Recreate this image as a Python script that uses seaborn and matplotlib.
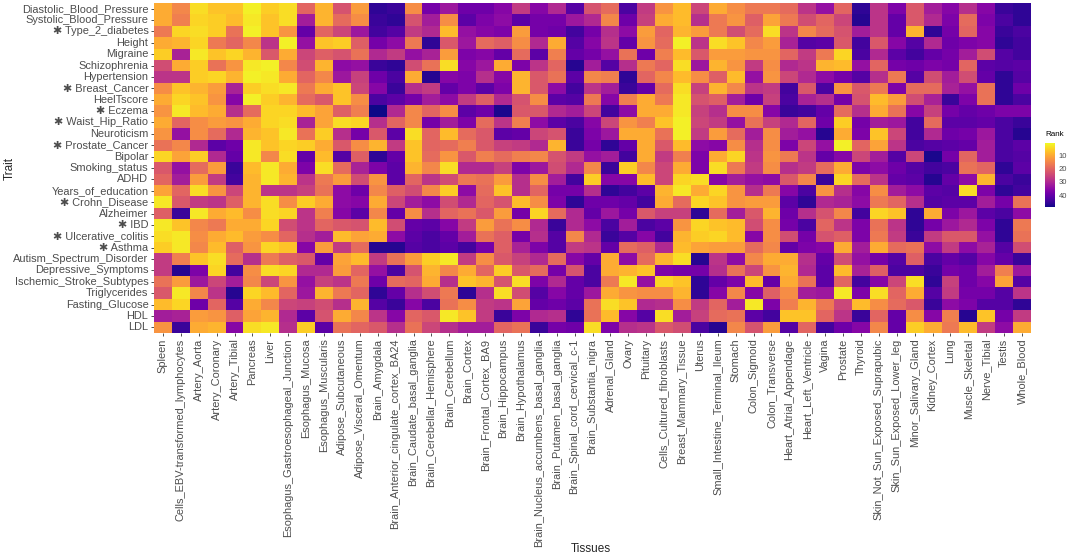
import numpy as np
import pandas as pd
import matplotlib
matplotlib.use("Agg")
import matplotlib.pyplot as plt
import seaborn as sns

# --------------------------------------------------------------------------- #
# Data (rank of each tissue per trait)
# --------------------------------------------------------------------------- #
tissues = [
    "Spleen", "Cells_EBV-transformed_lymphocytes", "Artery_Aorta", "Artery_Coronary",
    "Artery_Tibial", "Pancreas", "Liver", "Esophagus_Gastroesophageal_Junction",
    "Esophagus_Mucosa", "Esophagus_Muscularis", "Adipose_Subcutaneous",
    "Adipose_Visceral_Omentum", "Brain_Amygdala", "Brain_Anterior_cingulate_cortex_BA24",
    "Brain_Caudate_basal_ganglia", "Brain_Cerebellar_Hemisphere", "Brain_Cerebellum",
    "Brain_Cortex", "Brain_Frontal_Cortex_BA9", "Brain_Hippocampus", "Brain_Hypothalamus",
    "Brain_Nucleus_accumbens_basal_ganglia", "Brain_Putamen_basal_ganglia",
    "Brain_Spinal_cord_cervical_c-1", "Brain_Substantia_nigra", "Adrenal_Gland", "Ovary",
    "Pituitary", "Cells_Cultured_fibroblasts", "Breast_Mammary_Tissue", "Uterus",
    "Small_Intestine_Terminal_Ileum", "Stomach", "Colon_Sigmoid", "Colon_Transverse",
    "Heart_Atrial_Appendage", "Heart_Left_Ventricle", "Vagina", "Prostate", "Thyroid",
    "Skin_Not_Sun_Exposed_Suprapubic", "Skin_Sun_Exposed_Lower_leg", "Minor_Salivary_Gland",
    "Kidney_Cortex", "Lung", "Muscle_Skeletal", "Nerve_Tibial", "Testis", "Whole_Blood",
]

traits = [
    "Diastolic_Blood_Pressure", "Systolic_Blood_Pressure", "Type_2_diabetes", "Height",
    "Migraine", "Schizophrenia", "Hypertension", "Breast_Cancer", "HeelTscore", "Eczema",
    "Waist_Hip_Ratio", "Neuroticism", "Prostate_Cancer", "Bipolar", "Smoking_status", "ADHD",
    "Years_of_education", "Crohn_Disease", "Alzheimer", "IBD", "Ulcerative_colitis", "Asthma",
    "Autism_Spectrum_Disorder", "Depressive_Symptoms", "Ischemic_Stroke_Subtypes",
    "Triglycerides", "Fasting_Glucose", "HDL", "LDL",
]
starred = {"Type_2_diabetes", "Breast_Cancer", "Eczema", "Waist_Hip_Ratio", "Prostate_Cancer",
           "Crohn_Disease", "IBD", "Ulcerative_colitis", "Asthma"}

diastolic_bp = [10, 15, 4, 7, 7, 2, 6, 4, 20, 9, 23, 12, 46, 45, 14, 38, 33, 39, 39, 36, 27, 36, 30, 42, 23, 19, 43, 27, 13, 8, 25, 10, 14, 17, 17, 19, 28, 34, 20, 46, 28, 37, 22, 32, 36, 29, 36, 45, 46]
systolic_bp = [10, 16, 5, 6, 8, 3, 7, 4, 32, 9, 19, 14, 45, 46, 23, 32, 14, 41, 37, 35, 41, 38, 38, 33, 30, 15, 39, 26, 10, 8, 29, 17, 13, 21, 11, 17, 24, 20, 25, 47, 28, 40, 22, 30, 37, 19, 37, 43, 46]
type_2_diabetes = [17, 5, 4, 6, 18, 2, 7, 13, 40, 20, 25, 33, 44, 42, 27, 30, 8, 34, 36, 37, 12, 38, 39, 44, 38, 29, 35, 12, 20, 9, 12, 17, 24, 19, 4, 28, 15, 19, 23, 32, 28, 40, 9, 46, 38, 20, 36, 45, 43]
height = [10, 9, 5, 17, 20, 15, 28, 2, 34, 7, 6, 21, 38, 35, 17, 46, 22, 33, 19, 21, 14, 30, 10, 42, 36, 28, 40, 13, 19, 2, 28, 4, 7, 15, 12, 31, 42, 41, 22, 44, 22, 36, 42, 30, 39, 37, 36, 46, 44]
migraine = [6, 31, 3, 7, 5, 9, 22, 10, 25, 21, 23, 18, 30, 27, 34, 31, 12, 37, 36, 40, 19, 41, 16, 40, 38, 34, 18, 39, 16, 8, 22, 12, 12, 13, 13, 20, 27, 17, 5, 43, 30, 41, 44, 40, 38, 32, 24, 42, 44]
schizophrenia = [24, 10, 6, 18, 13, 3, 2, 15, 24, 9, 35, 34, 45, 46, 24, 18, 4, 36, 33, 10, 37, 28, 20, 47, 32, 42, 29, 17, 20, 4, 33, 9, 13, 27, 14, 30, 28, 9, 8, 34, 20, 38, 39, 37, 38, 20, 41, 42, 41]
hypertension = [28, 28, 6, 5, 9, 2, 3, 10, 20, 15, 33, 26, 39, 43, 10, 47, 36, 37, 29, 36, 9, 22, 18, 41, 15, 16, 46, 20, 15, 8, 14, 21, 8, 34, 13, 25, 30, 35, 38, 42, 29, 17, 42, 24, 32, 24, 40, 46, 42]
breast_cancer = [14, 7, 9, 12, 31, 6, 4, 3, 17, 10, 7, 25, 36, 45, 29, 27, 40, 37, 41, 37, 9, 22, 35, 44, 28, 32, 45, 40, 19, 4, 26, 9, 15, 28, 27, 44, 22, 43, 13, 22, 17, 37, 19, 19, 31, 34, 18, 46, 39]
heel_tscore = [10, 5, 7, 13, 36, 2, 6, 9, 19, 22, 7, 14, 43, 41, 38, 32, 35, 27, 21, 30, 23, 14, 41, 42, 17, 36, 16, 10, 17, 3, 23, 21, 32, 39, 26, 43, 31, 29, 38, 23, 8, 12, 24, 31, 45, 37, 18, 46, 43]
eczema = [13, 3, 8, 10, 29, 19, 5, 5, 8, 11, 21, 16, 49, 30, 15, 20, 14, 41, 39, 48, 22, 22, 30, 32, 25, 44, 35, 10, 10, 3, 26, 29, 14, 14, 36, 45, 44, 40, 19, 29, 10, 18, 36, 26, 38, 40, 39, 37, 37]
waist_hip_ratio = [10, 20, 14, 12, 13, 10, 5, 4, 31, 11, 4, 5, 29, 20, 15, 38, 32, 37, 19, 28, 16, 35, 41, 43, 36, 25, 13, 16, 7, 2, 25, 27, 34, 18, 26, 30, 20, 39, 6, 38, 32, 33, 44, 19, 41, 41, 40, 43, 45]
neuroticism = [13, 34, 14, 19, 30, 9, 7, 3, 18, 6, 29, 38, 22, 41, 4, 20, 8, 19, 22, 41, 40, 25, 23, 45, 37, 33, 10, 10, 18, 2, 27, 12, 19, 32, 14, 32, 34, 47, 10, 37, 7, 25, 44, 30, 39, 38, 33, 43, 47]
prostate_cancer = [18, 15, 30, 41, 39, 3, 7, 5, 6, 10, 22, 14, 9, 27, 7, 20, 19, 16, 22, 26, 27, 30, 9, 45, 38, 46, 40, 10, 22, 8, 35, 36, 14, 29, 14, 37, 25, 34, 2, 20, 11, 28, 43, 42, 41, 40, 32, 43, 41]
bipolar = [5, 11, 6, 30, 40, 3, 15, 4, 40, 8, 42, 21, 46, 40, 7, 19, 13, 22, 16, 19, 16, 15, 23, 27, 34, 32, 44, 10, 27, 16, 37, 10, 5, 28, 13, 17, 28, 40, 36, 25, 32, 42, 25, 48, 38, 20, 32, 43, 42]
smoking_status = [22, 34, 19, 12, 45, 8, 3, 10, 37, 4, 19, 31, 37, 41, 9, 15, 4, 30, 30, 26, 37, 33, 24, 30, 15, 45, 6, 15, 25, 10, 37, 4, 17, 27, 14, 29, 27, 19, 10, 37, 35, 39, 42, 44, 43, 18, 20, 46, 41]
adhd = [20, 32, 12, 27, 44, 9, 3, 9, 28, 17, 12, 24, 13, 41, 20, 28, 24, 17, 18, 12, 29, 14, 32, 44, 6, 36, 36, 8, 25, 5, 4, 36, 32, 34, 35, 22, 15, 45, 5, 19, 28, 40, 41, 47, 40, 35, 9, 43, 45]
years_of_education = [11, 20, 4, 13, 25, 9, 28, 28, 26, 18, 35, 39, 15, 21, 24, 15, 6, 35, 19, 7, 29, 20, 38, 38, 29, 46, 44, 41, 9, 3, 10, 5, 13, 29, 17, 36, 43, 13, 29, 36, 14, 32, 35, 41, 42, 4, 37, 46, 44]
crohn_disease = [3, 22, 27, 28, 21, 9, 4, 14, 6, 10, 35, 36, 10, 25, 32, 35, 24, 30, 20, 23, 8, 14, 37, 46, 39, 39, 40, 44, 10, 19, 5, 7, 13, 12, 12, 41, 46, 30, 31, 35, 17, 20, 29, 42, 41, 41, 32, 38, 18]
alzheimer = [21, 45, 3, 10, 8, 14, 4, 5, 28, 16, 36, 41, 15, 40, 14, 29, 20, 18, 22, 12, 38, 5, 19, 30, 40, 33, 38, 22, 26, 26, 46, 19, 32, 22, 9, 39, 29, 23, 15, 44, 5, 7, 46, 10, 37, 33, 41, 43, 35]
ibd = [3, 7, 15, 17, 10, 10, 5, 24, 28, 20, 22, 23, 8, 24, 40, 41, 36, 27, 12, 18, 14, 30, 45, 30, 35, 43, 32, 43, 41, 13, 5, 7, 8, 24, 14, 38, 43, 20, 28, 37, 18, 28, 46, 38, 33, 30, 37, 46, 17]
ulcerative_colitis = [4, 3, 14, 10, 8, 12, 14, 20, 29, 32, 8, 11, 10, 35, 41, 43, 40, 32, 18, 21, 38, 29, 42, 15, 30, 45, 42, 36, 44, 9, 6, 5, 8, 36, 14, 24, 38, 23, 21, 37, 17, 27, 45, 27, 22, 22, 34, 46, 18]
asthma = [6, 3, 15, 8, 21, 13, 5, 7, 36, 12, 27, 19, 47, 47, 42, 43, 41, 44, 38, 21, 31, 37, 42, 27, 28, 40, 19, 21, 30, 8, 11, 12, 12, 19, 15, 40, 37, 36, 10, 32, 10, 19, 18, 35, 27, 35, 31, 42, 24]
autism = [27, 16, 7, 4, 19, 29, 17, 21, 22, 40, 11, 8, 27, 18, 12, 6, 3, 27, 14, 22, 26, 30, 19, 36, 40, 10, 35, 19, 9, 4, 47, 28, 35, 15, 10, 10, 29, 40, 24, 34, 38, 42, 21, 43, 40, 42, 36, 40, 45]
depressive_symptoms = [27, 47, 37, 5, 44, 14, 4, 5, 30, 30, 12, 20, 34, 43, 23, 9, 15, 10, 20, 6, 22, 19, 38, 23, 43, 10, 9, 7, 37, 38, 38, 29, 18, 25, 13, 9, 30, 41, 8, 31, 21, 43, 43, 45, 38, 39, 32, 16, 33]
ischemic_stroke = [18, 12, 33, 25, 32, 15, 25, 13, 34, 26, 28, 17, 39, 19, 20, 10, 29, 7, 9, 23, 4, 37, 30, 40, 43, 17, 3, 34, 5, 7, 46, 40, 37, 8, 40, 10, 18, 41, 20, 44, 36, 25, 4, 46, 26, 39, 36, 11, 42]
triglycerides = [22, 3, 15, 28, 47, 5, 8, 20, 33, 9, 17, 20, 46, 40, 29, 24, 17, 46, 29, 4, 24, 42, 36, 40, 33, 10, 13, 14, 14, 9, 46, 36, 15, 36, 21, 14, 32, 33, 3, 37, 4, 20, 10, 42, 27, 38, 38, 42, 28]
fasting_glucose = [8, 5, 39, 20, 42, 10, 15, 25, 26, 24, 29, 9, 42, 45, 36, 43, 18, 14, 27, 28, 11, 40, 39, 41, 18, 4, 7, 30, 29, 14, 27, 20, 32, 3, 37, 16, 9, 17, 25, 8, 14, 19, 22, 45, 35, 37, 42, 42, 46]
hdl = [32, 31, 12, 13, 21, 11, 9, 30, 41, 23, 10, 15, 28, 36, 20, 22, 3, 7, 27, 45, 37, 30, 29, 46, 18, 8, 36, 42, 4, 32, 26, 19, 18, 41, 44, 7, 7, 20, 28, 45, 20, 40, 14, 36, 16, 47, 7, 38, 27]
ldl = [13, 45, 10, 9, 36, 4, 3, 29, 6, 41, 18, 20, 22, 29, 18, 25, 29, 32, 32, 20, 18, 45, 38, 39, 4, 37, 29, 28, 22, 24, 43, 47, 15, 23, 12, 42, 20, 44, 39, 36, 15, 40, 6, 10, 17, 8, 27, 35, 10]

rows = [diastolic_bp, systolic_bp, type_2_diabetes, height, migraine, schizophrenia,
        hypertension, breast_cancer, heel_tscore, eczema, waist_hip_ratio, neuroticism,
        prostate_cancer, bipolar, smoking_status, adhd, years_of_education, crohn_disease,
        alzheimer, ibd, ulcerative_colitis, asthma, autism, depressive_symptoms,
        ischemic_stroke, triglycerides, fasting_glucose, hdl, ldl]

# --------------------------------------------------------------------------- #
# Plot
# --------------------------------------------------------------------------- #
sns.set_theme(style="white")
FONTS = ["Liberation Sans", "DejaVu Sans"]
plt.rcParams["font.family"] = FONTS

W, H = 1072, 557
fig = plt.figure(figsize=(W / 100, H / 100), dpi=100)
ax = fig.add_axes([154 / W, 1 - 333 / H, 877 / W, 330 / H])
cax = fig.add_axes([1045 / W, 1 - 207 / H, 10 / W, 64 / H])

ranks = pd.DataFrame(rows, index=traits, columns=tissues)
sns.heatmap(ranks, ax=ax, cbar_ax=cax, cmap="plasma_r", vmin=1, vmax=49,
            xticklabels=True, yticklabels=True, linewidths=0,
            cbar_kws={"ticks": [10, 20, 30, 40]})

TICK_GREY = "#4d4d4d"
ax.set_yticklabels([("\u2731 " + t) if t in starred else t for t in traits],
                   rotation=0, fontsize=7.9, color=TICK_GREY, family=FONTS)
ax.set_xticklabels(tissues, rotation=90, fontsize=7.9, color=TICK_GREY, family=FONTS)
ax.tick_params(axis="both", length=2.5, width=0.6, color="#333333", pad=1.5,
               left=True, bottom=True)
ax.set_xlabel("Tissues", fontsize=8.5, family=FONTS)
ax.set_ylabel("Trait", fontsize=8.5, family=FONTS)
ax.xaxis.set_label_coords(0.498, -(543 - 333) / 330)
ax.yaxis.set_label_coords(-(154 - 16) / 877, 0.5)

# colourbar styled like the ggplot legend: rank 1 on top, white ticks inside
cax.invert_yaxis()
cax.tick_params(axis="y", direction="in", length=2.5, width=0.6, color="white",
                left=True, right=True, labelsize=5.5, labelcolor=TICK_GREY, pad=2.5)
cax.set_title("Rank", fontsize=5.8, loc="left", pad=5, color="black", family=FONTS)
for s in cax.spines.values():
    s.set_visible(False)

fig.savefig("out.png", dpi=100)
